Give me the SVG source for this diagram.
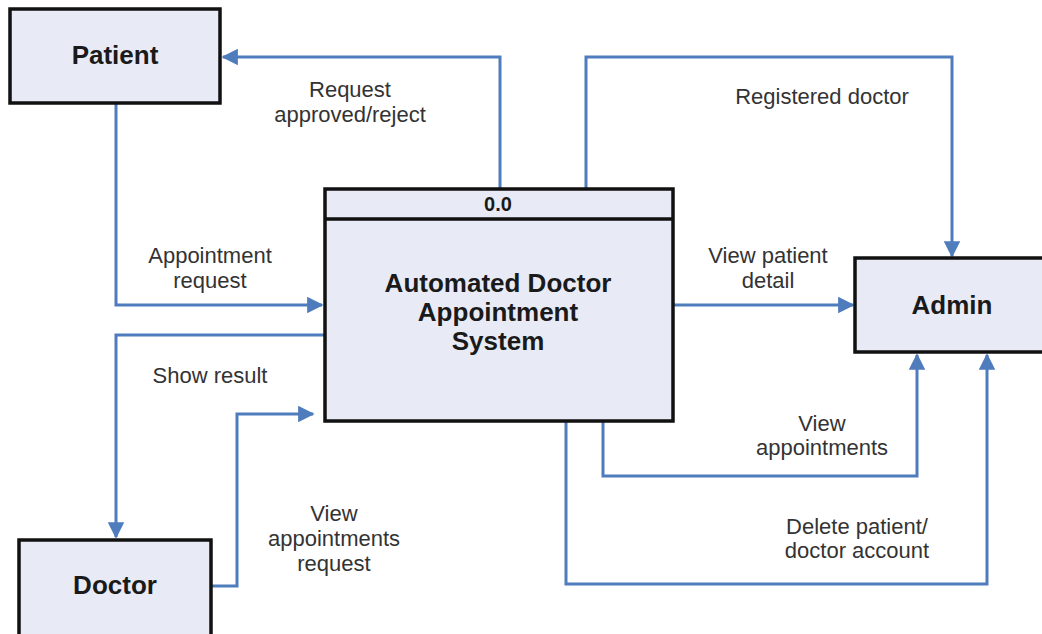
<svg xmlns="http://www.w3.org/2000/svg" width="1042" height="634" viewBox="0 0 1042 634">
<style>
.box{fill:#e8ebf6;stroke:#111;stroke-width:3.5}
.nt{font-family:"Liberation Sans",Arial,sans-serif;font-weight:bold;font-size:26px;fill:#1a1a1a;text-anchor:middle}
.lb{font-family:"Liberation Sans",Arial,sans-serif;font-size:22px;fill:#333;text-anchor:middle}
.ln{fill:none;stroke:#4f7cbc;stroke-width:3;marker-end:url(#ah)}
</style>
<defs>
<marker id="ah" viewBox="0 0 10 10" refX="9" refY="5" markerWidth="5.5" markerHeight="5.5" orient="auto" markerUnits="strokeWidth">
<path d="M0,0 L10,5 L0,10 Z" fill="#4f7cbc"/>
</marker>
</defs>
<rect width="1042" height="634" fill="#fff"/>
<g id="connectors">
<path class="ln" d="M500,188 V57 H223"/>
<path class="ln" d="M116,103 V305 H322"/>
<path class="ln" d="M586,188 V57 H952 V256"/>
<path class="ln" d="M673,305 H853"/>
<path class="ln" d="M325,335 H116 V537"/>
<path class="ln" d="M211,586 H237 V414 H313"/>
<path class="ln" d="M603,421 V476 H917 V355"/>
<path class="ln" d="M566,421 V584 H987 V355"/>
</g>
<g id="labels">
<text class="lb" x="350" y="97">Request</text>
<text class="lb" x="350" y="122">approved/reject</text>
<text class="lb" x="210" y="263">Appointment</text>
<text class="lb" x="210" y="288">request</text>
<text class="lb" x="822" y="104">Registered doctor</text>
<text class="lb" x="768" y="263">View patient</text>
<text class="lb" x="768" y="288">detail</text>
<text class="lb" x="210" y="383">Show result</text>
<text class="lb" x="334" y="521">View</text>
<text class="lb" x="334" y="546">appointments</text>
<text class="lb" x="334" y="571">request</text>
<text class="lb" x="822" y="431">View</text>
<text class="lb" x="822" y="455">appointments</text>
<text class="lb" x="857" y="534">Delete patient/</text>
<text class="lb" x="857" y="558">doctor account</text>
</g>
<g id="patient">
<rect class="box" x="10" y="9" width="210" height="94"/>
<text class="nt" x="115" y="64">Patient</text>
</g>
<g id="system">
<rect class="box" x="325" y="189" width="348" height="232"/>
<line x1="325" y1="219" x2="673" y2="219" stroke="#111" stroke-width="3.5"/>
<text class="nt" x="498" y="211" style="font-size:20px">0.0</text>
<text class="nt" x="498" y="292">Automated Doctor</text>
<text class="nt" x="498" y="321">Appointment</text>
<text class="nt" x="498" y="350">System</text>
</g>
<g id="admin">
<rect class="box" x="855" y="258" width="200" height="94"/>
<text class="nt" x="952" y="314">Admin</text>
</g>
<g id="doctor">
<rect class="box" x="19" y="540" width="192" height="110"/>
<text class="nt" x="115" y="594">Doctor</text>
</g>
</svg>
